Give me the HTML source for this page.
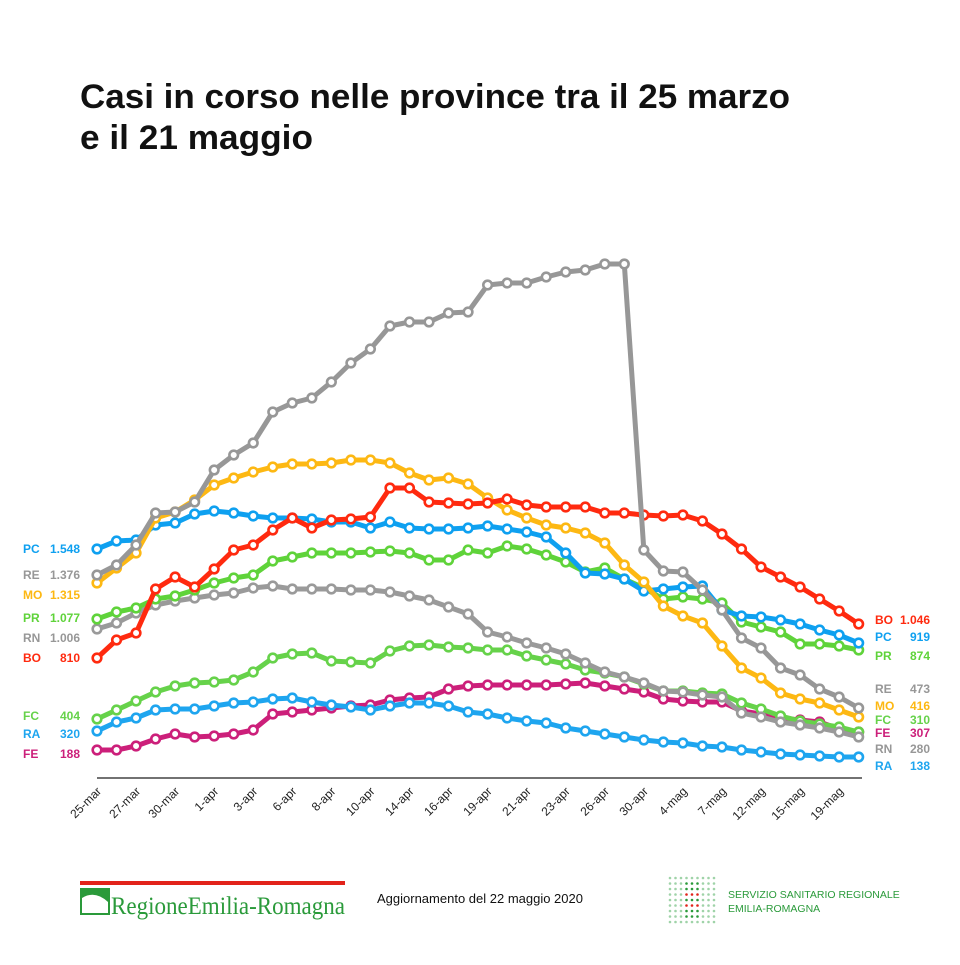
<!DOCTYPE html>
<html><head><meta charset="utf-8"><style>
body{margin:0;background:#fff;}
svg text{font-family:"Liberation Sans",sans-serif;}
</style></head><body>
<svg id="s" width="960" height="960" viewBox="0 0 960 960" xmlns="http://www.w3.org/2000/svg">
<rect width="960" height="960" fill="#fff"/>
<text x="80" y="108" font-size="34" font-weight="bold" fill="#111" textLength="710" lengthAdjust="spacingAndGlyphs">Casi in corso nelle province tra il 25 marzo</text>
<text x="80" y="149" font-size="34" font-weight="bold" fill="#111" textLength="233" lengthAdjust="spacingAndGlyphs">e il 21 maggio</text>
<line x1="97" y1="778" x2="862" y2="778" stroke="#444" stroke-width="1.5"/>
<g id="xl" font-size="12" fill="#222"></g>
<g id="lines"></g>
<g id="labs" font-size="12" font-weight="bold"></g>
<rect x="80" y="881" width="265" height="4" fill="#e2231a"/>
<rect x="80" y="888" width="30" height="27" fill="#2a9a3a"/>
<path d="M82 898 Q95 890 108 902 L108 913 L82 913Z" fill="#fff"/>
<text x="111" y="914" font-size="25" fill="#2a9a3a" style="font-family:'Liberation Serif',serif" textLength="234" lengthAdjust="spacingAndGlyphs">RegioneEmilia-Romagna</text>
<text x="377" y="903" font-size="13" fill="#111">Aggiornamento del 22 maggio 2020</text>
<g id="dots"></g>
<text x="728" y="898" font-size="10.5" fill="#2a9a3a">SERVIZIO SANITARIO REGIONALE</text>
<text x="728" y="912" font-size="10.5" fill="#2a9a3a">EMILIA-ROMAGNA</text>
</svg>
<script>
var NS="http://www.w3.org/2000/svg";
function el(t,a,p,txt){var e=document.createElementNS(NS,t);for(var k in a)e.setAttribute(k,a[k]);if(txt)e.textContent=txt;p.appendChild(e);return e;}
var X=function(i){return 97+19.53*i;};
var labels=["25-mar","27-mar","30-mar","1-apr","3-apr","6-apr","8-apr","10-apr","14-apr","16-apr","19-apr","21-apr","23-apr","26-apr","30-apr","4-mag","7-mag","12-mag","15-mag","19-mag"];
var xl=document.getElementById("xl");
labels.forEach(function(l,j){var x=X(2*j)+5,y=792;el("text",{x:x,y:y,"text-anchor":"end",transform:"rotate(-45 "+x+" "+y+")"},xl,l);});
var S=[
["FE","#cc1f7a",[750,750,746,739,734,737,736,734,730,714,712,710,708,706,705,700,698,697,689,686,685,685,685,685,684,683,686,689,692,699,701,702,702,711,714,718,720,722,729,732]],
["RA","#1ea5ef",[731,722,718,710,709,709,706,703,702,699,698,702,705,707,710,706,703,703,706,712,714,718,721,723,728,731,734,737,740,742,743,746,747,750,752,754,755,756,757,757]],
["FC","#66d24a",[719,710,701,692,686,683,682,680,672,658,654,653,661,662,663,651,646,645,647,648,650,650,656,660,664,670,673,677,684,691,691,693,694,703,709,716,721,724,727,732]],
["RN","#9a9a9a",[629,623,613,605,601,598,595,593,588,586,589,589,589,590,590,592,596,600,607,614,632,637,643,648,654,663,672,677,683,691,692,695,697,713,717,722,725,728,732,737]],
["PR","#5fd33a",[619,612,608,599,596,590,583,578,575,561,557,553,553,553,552,551,553,560,560,550,553,546,549,555,562,572,568,579,588,599,597,599,603,622,627,632,644,644,646,650]],
["PC","#0ea0f0",[549,541,540,525,523,514,511,513,516,518,518,519,522,522,528,522,528,529,529,528,526,529,532,537,553,573,574,579,591,589,587,586,610,616,617,620,624,630,635,643]],
["MO","#fdb813",[583,568,553,518,512,500,485,478,472,467,464,464,463,460,460,463,473,480,478,484,498,510,518,525,528,533,543,565,582,606,616,623,646,668,678,693,699,703,710,717]],
["BO","#ff2a0f",[658,640,633,589,577,587,569,550,545,530,518,528,520,519,517,488,488,502,503,504,503,499,505,507,507,507,513,513,515,516,515,521,534,549,567,577,587,599,611,624]],
["RE","#979797",[575,565,545,513,512,502,470,455,443,412,403,398,382,363,349,326,322,322,313,312,285,283,283,277,272,270,264,264,550,571,572,590,610,638,648,668,675,689,697,708]]
];
var g=document.getElementById("lines");
S.forEach(function(s){var c=s[1],d=s[2];
 el("polyline",{points:d.map(function(y,i){return X(i)+","+y;}).join(" "),fill:"none",stroke:c,"stroke-width":5,"stroke-linejoin":"round"},g);
 d.forEach(function(y,i){el("circle",{cx:X(i),cy:y,r:4.3,fill:"#fff",stroke:c,"stroke-width":2.6},g);});
});
var lb=document.getElementById("labs");
var L=[["PC","1.548",549,"#0ea0f0"],["RE","1.376",575,"#979797"],["MO","1.315",595,"#fdb813"],["PR","1.077",618,"#5fd33a"],["RN","1.006",638,"#979797"],["BO","810",658,"#ff2a0f"],["FC","404",716,"#66d24a"],["RA","320",734,"#1ea5ef"],["FE","188",754,"#cc1f7a"]];
L.forEach(function(a){el("text",{x:23,y:a[2]+4,fill:a[3]},lb,a[0]);el("text",{x:80,y:a[2]+4,fill:a[3],"text-anchor":"end"},lb,a[1]);});
var R=[["BO","1.046",620,"#ff2a0f"],["PC","919",637,"#0ea0f0"],["PR","874",656,"#5fd33a"],["RE","473",689,"#979797"],["MO","416",706,"#fdb813"],["FC","310",720,"#66d24a"],["FE","307",733,"#cc1f7a"],["RN","280",749,"#979797"],["RA","138",766,"#1ea5ef"]];
R.forEach(function(a){el("text",{x:875,y:a[2]+4,fill:a[3]},lb,a[0]);el("text",{x:930,y:a[2]+4,fill:a[3],"text-anchor":"end"},lb,a[1]);});
var dg=document.getElementById("dots");
for(var r=0;r<9;r++)for(var c=0;c<9;c++){var col="#9fd3a8";
 if(c>=3&&c<=5&&r>=1&&r<=7)col="#2a9a3a";
 if(c>=3&&c<=5&&(r==3||r==5))col="#e2231a";
 el("circle",{cx:670+c*5.5,cy:878+r*5.5,r:1.3,fill:col},dg);}
</script>
</body></html>
